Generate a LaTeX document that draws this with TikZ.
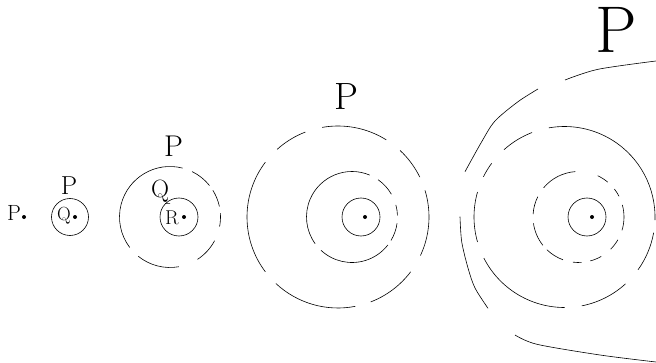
\documentclass[tikz,border=0pt]{standalone}
\usepackage{fontspec}
\usetikzlibrary{positioning}
\tikzstyle{ring}=[draw,circle,inner sep=0pt,minimum size=38pt,line width=0.6pt]
\tikzstyle{pt}=[fill,circle,inner sep=0pt,minimum size=4pt]
\tikzstyle{gapped}=[line width=0.6pt]
\newcommand{\lbl}[1]{\fontsize{#1}{#1}\selectfont}

\begin{document}
\begin{tikzpicture}[x=1pt,y=1pt]
  \useasboundingbox (0,0) rectangle (656,362);

  % the point
  \node(p1)[font=\lbl{22}] at (14,149) {P};
  \node(p1dot)[pt] at (24,145) {};

  % first zoom
  \node(q2ring)[ring,minimum size=37pt] at (70,145) {};
  \node(q2dot)[pt] at (75,145) {};
  \node(q2)[font=\lbl{19}] at (64,146) {Q};
  \node(p2)[font=\lbl{26}] at (69,176) {P};

  % second zoom
  \coordinate(c3) at (170,145);
  \foreach \a/\b in {-129/-80,-57/-28,-11/4.5,12/32,38.5/64,75.6/217}
    \draw[gapped] ([shift={(\a:50.5)}]c3) arc[start angle=\a,end angle=\b,radius=50.5];
  \node(r3ring)[ring] at (179,145) {};
  \node(r3dot)[pt] at (184,145) {};
  \node(r3)[font=\lbl{20}] at (172,144) {R};
  \node(q3)[font=\lbl{25},inner sep=1pt] at (160,171) {Q};
  \draw[line width=0.6pt] (q3.south east) -- (r3ring.north west);
  \node(p3)[font=\lbl{30}] at (173.5,216) {P};

  % third zoom
  \coordinate(c4out) at (338,145);
  \coordinate(c4mid) at (352,145);
  \foreach \a/\b in {-133/-79,-69/-37,-25/17,26/47,58/100,111/132,143/217}
    \draw[gapped] ([shift={(\a:91)}]c4out) arc[start angle=\a,end angle=\b,radius=91];
  \foreach \a/\b in {-133/-38,-31/-8,2/15.5,30/55,67/216}
    \draw[gapped] ([shift={(\a:45.5)}]c4mid) arc[start angle=\a,end angle=\b,radius=45.5];
  \node(s4ring)[ring] at (361,145) {};
  \node(s4dot)[pt] at (365,145) {};
  \node(p4)[font=\lbl{38}] at (346,265) {P};

  % fourth zoom
  \coordinate(c5out) at (564.5,145);
  \coordinate(c5mid) at (578.5,145);
  \foreach \a/\b in {-153/-90,-79/-47.6,-35.7/-10,-2/100,111/132,143.6/153.6,164/196}
    \draw[gapped] ([shift={(\a:90.5)}]c5out) arc[start angle=\a,end angle=\b,radius=90.5];
  \foreach \a/\b in {-172/-141.5,-134/-110,-97/-86,-75/-60,-45/-30,-17/15.5,27/38,50/65,94/140,153.5/176.5}
    \draw[gapped] ([shift={(\a:45.5)}]c5mid) arc[start angle=\a,end angle=\b,radius=45.5];
  \node(s5ring)[ring] at (587,145) {};
  \node(s5dot)[pt] at (592,145) {};
  \draw[gapped] plot[smooth] coordinates {(565,282) (598,292.7) (656,301)};
  \draw[gapped] plot[smooth] coordinates {(538,273) (518,260.3) (495,241) (481.7,220.3) (465,190.3)};
  \draw[gapped] plot[smooth] coordinates {(460,145.3) (461.7,120.3) (468,94) (475,74) (488,53.7)};
  \draw[gapped] plot[smooth] coordinates {(515,27) (537,17.7) (600,7) (656,0)};
  \node(p5)[font=\lbl{66}] at (616,332) {P};
\end{tikzpicture}
\end{document}
